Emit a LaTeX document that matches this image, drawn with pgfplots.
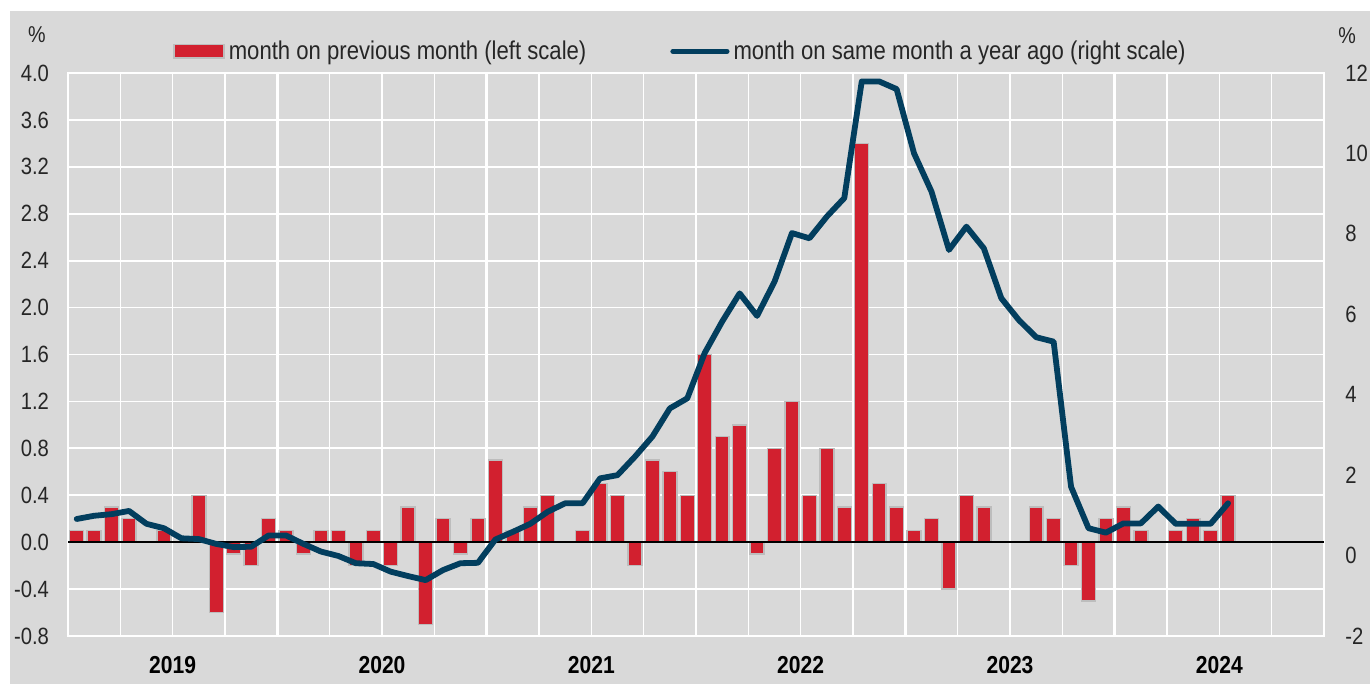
\documentclass[border=0pt]{standalone}
\usepackage{fontspec}
\setmainfont{Liberation Sans}[FakeStretch=0.86]
\usepackage{pgfplots}
\usepackage{pgfplotstable}
\pgfplotsset{compat=1.18}
\definecolor{bg}{HTML}{D9D9D9}
\definecolor{barred}{HTML}{D2202F}
\definecolor{navy}{HTML}{023E5E}
\definecolor{txt}{HTML}{262626}
\definecolor{baredge}{HTML}{BDBDBD}

% month index (0 = Jan 2019), month-on-month change in %
\pgfplotstableread{
x y
0.5 0.1
1.5 0.1
2.5 0.3
3.5 0.2
4.5 0.0
5.5 0.1
6.5 0.0
7.5 0.4
8.5 -0.6
9.5 -0.1
10.5 -0.2
11.5 0.2
12.5 0.1
13.5 -0.1
14.5 0.1
15.5 0.1
16.5 -0.2
17.5 0.1
18.5 -0.2
19.5 0.3
20.5 -0.7
21.5 0.2
22.5 -0.1
23.5 0.2
24.5 0.7
25.5 0.1
26.5 0.3
27.5 0.4
28.5 0.0
29.5 0.1
30.5 0.5
31.5 0.4
32.5 -0.2
33.5 0.7
34.5 0.6
35.5 0.4
36.5 1.6
37.5 0.9
38.5 1.0
39.5 -0.1
40.5 0.8
41.5 1.2
42.5 0.4
43.5 0.8
44.5 0.3
45.5 3.4
46.5 0.5
47.5 0.3
48.5 0.1
49.5 0.2
50.5 -0.4
51.5 0.4
52.5 0.3
53.5 0.0
54.5 0.0
55.5 0.3
56.5 0.2
57.5 -0.2
58.5 -0.5
59.5 0.2
60.5 0.3
61.5 0.1
62.5 0.0
63.5 0.1
64.5 0.2
65.5 0.1
66.5 0.4
}\bars

% month on same month a year ago in %
\pgfplotstableread{
x y
0.5 0.91
1.5 0.99
2.5 1.03
3.5 1.11
4.5 0.79
5.5 0.68
6.5 0.43
7.5 0.41
8.5 0.29
9.5 0.21
10.5 0.22
11.5 0.50
12.5 0.50
13.5 0.29
14.5 0.10
15.5 -0.01
16.5 -0.19
17.5 -0.21
18.5 -0.40
19.5 -0.51
20.5 -0.61
21.5 -0.36
22.5 -0.19
23.5 -0.18
24.5 0.40
25.5 0.59
26.5 0.79
27.5 1.09
28.5 1.30
29.5 1.30
30.5 1.92
31.5 2.00
32.5 2.46
33.5 2.96
34.5 3.66
35.5 3.91
36.5 5.04
37.5 5.82
38.5 6.52
39.5 5.96
40.5 6.81
41.5 8.02
42.5 7.89
43.5 8.43
44.5 8.89
45.5 11.79
46.5 11.79
47.5 11.60
48.5 10.00
49.5 9.05
50.5 7.60
51.5 8.18
52.5 7.64
53.5 6.40
54.5 5.86
55.5 5.43
56.5 5.32
57.5 1.71
58.5 0.68
59.5 0.57
60.5 0.80
61.5 0.80
62.5 1.22
63.5 0.79
64.5 0.79
65.5 0.79
66.5 1.30
}\yoy

\begin{document}
\begin{tikzpicture}[x=1bp,y=1bp]
\fill[white] (0,0) rectangle (685,342);
\fill[bg] (5,0) rectangle (685,336.5);
\node[text=txt, font=\fontsize{11.5}{13}\selectfont] at (18.5,324.5) {\%};
\node[text=txt, font=\fontsize{11.5}{13}\selectfont] at (673.5,324) {\%};

\begin{axis}[
  at={(34bp,24bp)}, anchor=south west,
  width=628bp, height=281.5bp, scale only axis,
  xmin=0, xmax=72, ymin=-0.8, ymax=4.0,
  ytick={-0.8,-0.4,0,0.4,0.8,1.2,1.6,2.0,2.4,2.8,3.2,3.6,4.0},
  yticklabels={-0.8,-0.4,0.0,0.4,0.8,1.2,1.6,2.0,2.4,2.8,3.2,3.6,4.0},
  xtick={0,12,24,36,48,60,72}, xticklabels={},
  minor xtick={3,6,9,15,18,21,27,30,33,39,42,45,51,54,57,63,66,69},
  extra x ticks={6,18,30,42,54,66},
  extra x tick labels={2019,2020,2021,2022,2023,2024},
  extra x tick style={grid=none, major tick length=0pt,
    tick label style={font=\bfseries\fontsize{12.3}{14}\selectfont, text=black, yshift=-6.5bp}},
  xmajorgrids, xminorgrids, ymajorgrids,
  major x grid style={white, line width=1.4bp},
  minor x grid style={white, line width=0.7bp},
  major y grid style={white, line width=0.85bp},
  axis line style={white, line width=1bp},
  major tick length=0pt, minor tick length=0pt,
  yticklabel style={font=\fontsize{11.8}{13}\selectfont, text=txt, xshift=-6bp},
  ybar, bar width=0.8,
  clip=false,
]
\addplot[fill=barred, draw=baredge, line width=0.7bp] table {\bars};
\draw[black, line width=0.8bp] (axis cs:0,0) -- (axis cs:72,0);
\end{axis}

\begin{axis}[
  at={(34bp,24bp)}, anchor=south west,
  width=628bp, height=281.5bp, scale only axis,
  xmin=0, xmax=72, ymin=-2, ymax=12,
  axis y line*=right, axis x line=none,
  y axis line style={draw=none},
  ytick={-2,0,2,4,6,8,10,12},
  yticklabels={-2,0,2,4,6,8,10,12},
  major tick length=0pt,
  yticklabel style={font=\fontsize{11.8}{13}\selectfont, text=txt, anchor=west, inner xsep=0pt, xshift=10.5bp},
  legend columns=2,
  legend style={at={(0.4885,1.0385)}, anchor=center, draw=none, fill=none,
    font=\fontsize{12.9}{14}\selectfont, text=txt,
    /tikz/column 2/.style={column sep=40bp}},
]
\addlegendimage{legend image code/.code={\draw[fill=barred, draw=baredge, line width=0.7bp] (0bp,-3.3bp) rectangle (25bp,3.3bp);}}
\addlegendentry{month on previous month (left scale)}
\addplot[navy, line width=2.9bp, line join=round, line cap=round,
  legend image code/.code={\draw[navy, line width=2.6bp] (0bp,0bp) -- (27bp,0bp);}] table {\yoy};
\addlegendentry{month on same month a year ago (right scale)}
\end{axis}
\end{tikzpicture}
\end{document}
